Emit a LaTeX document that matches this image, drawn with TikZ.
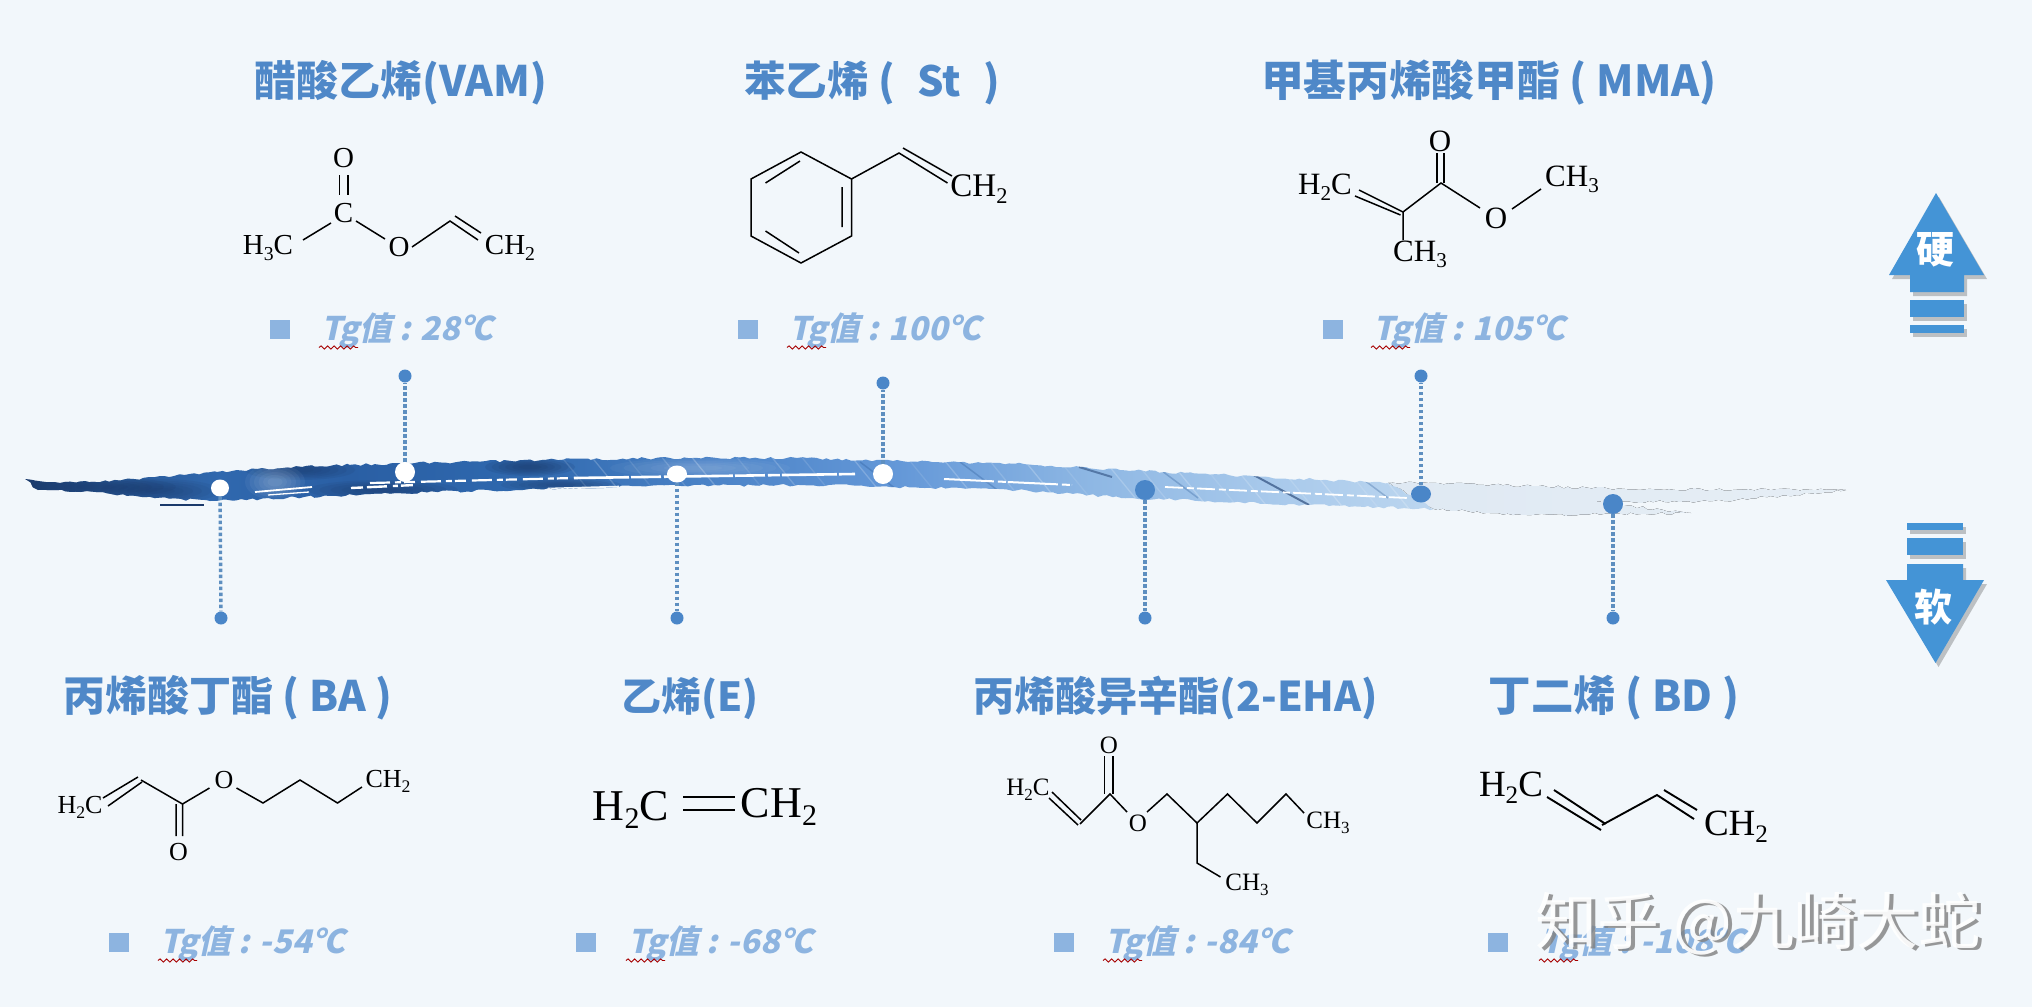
\documentclass[tikz,border=0pt]{standalone}
\usepackage{fontspec}
\usepackage{graphicx}
\usetikzlibrary{decorations.pathmorphing,shadows,shapes.geometric}
\newfontfamily\cjkf{Noto Sans CJK SC}
\newfontfamily\tgf[FakeSlant=0.22]{Noto Sans CJK SC}
\newfontfamily\chemf{Liberation Serif}
\definecolor{bgc}{HTML}{F2F7FB}
\definecolor{titlec}{HTML}{4F88C8}
\definecolor{tgc}{HTML}{8DB4E0}
\definecolor{stemc}{HTML}{5E8FC0}
\definecolor{dotc}{HTML}{4A86C8}
\definecolor{arrc}{HTML}{4494D6}
\definecolor{taila}{HTML}{DFE9F3}
\definecolor{tailb}{HTML}{E6EEF5}
\definecolor{dk0}{HTML}{1B3A6B}\definecolor{dk1}{HTML}{285896}\definecolor{dk2}{HTML}{3068AE}
\definecolor{dk3}{HTML}{2A5FA4}\definecolor{dk4}{HTML}{2F68AE}\definecolor{dk5}{HTML}{4A82C6}
\definecolor{dk6}{HTML}{6498D8}\definecolor{dk7}{HTML}{8FB8E4}\definecolor{dk8}{HTML}{ABCBEC}\definecolor{dk9}{HTML}{BCD6EF}
\newcommand\sbs[1]{\raisebox{-0.2em}{\scalebox{.68}{#1}}}
\newcommand\softblob[5]{\foreach \k in {1,.85,.7,.55,.4,.25}{\fill[#1,opacity=#5] (#2) ellipse ({#3*\k} and {#4*\k});}}
\tikzset{
 titlenode/.style={font=\fontsize{#1}{#1}\selectfont\cjkf\bfseries,text=titlec,inner sep=0pt},
 tgnode/.style={font=\fontsize{32.5}{32.5}\selectfont\tgf\bfseries,text=tgc,inner sep=0pt,anchor=west},
 sq/.style={fill=tgc,draw=none},
 squig/.style={draw=red!65!black,line width=.9pt,decorate,decoration={snake,segment length=6.5pt,amplitude=1.6pt}},
 bond/.style={draw=black,line width=1.5pt},
 atom/.style={inner sep=0pt,text=black,font=\fontsize{#1}{#1}\selectfont\chemf},
 stem/.style={draw=stemc,line width=3.4pt,dash pattern=on 3.5pt off 2.5pt},
 enddot/.style={circle,fill=dotc,minimum size=13pt,inner sep=0pt},
 whitedot/.style={ellipse,fill=white,inner sep=0pt},
 bluedot/.style={circle,fill=dotc,minimum size=20pt,inner sep=0pt},
 arr/.style={fill=arrc,draw=none,general shadow={shadow xshift=3pt,shadow yshift=-4pt,fill=black,opacity=.22}},
 wm/.style={font=\fontsize{62}{62}\selectfont\cjkf,inner sep=0pt},
 ragged/.style={decorate,decoration={random steps,segment length=5pt,amplitude=1.3pt}},
}
\pgfdeclarehorizontalshading{brushsh}{100bp}{
 color(0bp)=(dk0);color(25bp)=(dk0);color(27.7bp)=(dk1);color(31.9bp)=(dk2);color(36.5bp)=(dk3);color(42.6bp)=(dk4);
 color(49bp)=(dk5);color(56bp)=(dk6);color(63bp)=(dk7);color(70bp)=(dk8);color(75bp)=(dk9);color(100bp)=(dk9)}
\def\brushpath{(25,479) -- (60,483) -- (89,482) -- (134,479) -- (217,472) -- (306,466) -- (415,463) -- (542,460) -- (670,458) -- (797,458) -- (893,461) -- (1000,463) -- (1165,472) -- (1388,483) -- (1434,509) -- (1309,505) -- (1132,498) -- (1000,489) -- (925,488) -- (829,485) -- (638,486) -- (517,490) -- (395,493) -- (287,498) -- (210,501) -- (147,497) -- (96,492) -- (38,490) -- cycle}
\begin{document}
\begin{tikzpicture}[x=1pt,y=-1pt]
\fill[bgc] (0,0) rectangle (2032,1007);
\useasboundingbox (0,0) rectangle (2032,1007);

% brush tail
\pgfmathsetseed{7}
\fill[ragged,left color=taila,right color=tailb] (1388,483) -- (1428,483) -- (1625,489) -- (1846,490) -- (1724,501) -- (1592,502) -- (1691,513) -- (1527,515) -- (1434,509) -- cycle;
% brush body
\pgfmathsetseed{11}
\path[ragged,shading=brushsh] \brushpath;
\begin{scope}
\pgfmathsetseed{11}
\clip[ragged] \brushpath;
\softblob{dk0}{96,487}{80}{10}{.14}
\softblob{dk0}{160,491}{60}{12}{.10}
\softblob{dk0}{300,470}{55}{10}{.13}
\softblob{dk0}{383,490}{75}{10}{.12}
\softblob{dk0}{530,467}{45}{9}{.16}
\softblob{dk0}{561,485}{60}{7}{.12}
\softblob{white}{275,482}{30}{18}{.05}
\softblob{white}{700,468}{90}{10}{.04}
\foreach \xa/\op in {560/.12,590/.2,625/.1,660/.16,690/.22,735/.1,770/.18,800/.12,850/.2,905/.1,940/.2,985/.14,1020/.22,1055/.1,1100/.2,1130/.14,1165/.22,1195/.1,1225/.18,1270/.14,1300/.22,1335/.12,1365/.2}
  \draw[white,opacity=\op,line width=1.3pt] (\xa,455) -- ++(45,55);
\foreach \xa in {860,960,1150,1340}
  \draw[dk1,opacity=.3,line width=1.5pt] (\xa,462) -- ++(48,36);
\draw[dk0,opacity=.6,line width=2pt] (1250,473) -- (1309,505);
\draw[dk0,opacity=.5,line width=2pt] (1079,467) -- (1112,477);
\draw[white,line width=1.8pt] (255,492) -- (312,487);
\draw[white,line width=1.3pt] (268,495) -- (309,492);
\draw[white,line width=2.4pt,dash pattern=on 12pt off 4pt on 20pt off 6pt on 5pt off 3pt] (351,488) -- (415,485);
\draw[white,line width=2.2pt,dash pattern=on 20pt off 5pt on 6pt off 3pt on 11pt off 6pt] (370,483) -- (574,478);
\draw[white,line width=2.6pt,dash pattern=on 55pt off 2pt on 30pt off 3pt on 12pt off 2pt] (574,478) -- (855,474);
\draw[white,line width=2pt,dash pattern=on 50pt off 4pt on 8pt off 2pt] (944,479) -- (1072,485);
\draw[white,line width=1.8pt,dash pattern=on 18pt off 4pt on 7pt off 3pt] (1165,487) -- (1408,498);
\draw[bgc,line width=2.6pt] (548,489) -- (619,487);
\end{scope}
\fill[dk0] (160,504) rectangle (204,505.5);

% dots and stems
\node[whitedot,minimum width=18pt,minimum height=17pt] (wa) at (220,488) {};
\node[whitedot,minimum width=20pt,minimum height=20pt] (wb) at (405,472) {};
\node[whitedot,minimum width=20pt,minimum height=17pt] (wc) at (677,474) {};
\node[whitedot,minimum width=20pt,minimum height=20pt] (wd) at (883,474) {};
\node[bluedot,ellipse,minimum width=20pt,minimum height=17pt] (be) at (1421,494) {};
\node[bluedot] (bf) at (1145,490) {};
\node[bluedot] (bg) at (1613,504) {};
\node[enddot] (ea) at (221,618) {};
\node[enddot] (ec) at (677,618) {};
\node[enddot] (ef) at (1145,618) {};
\node[enddot] (eg) at (1613,618) {};
\node[enddot] (eb) at (405,376) {};
\node[enddot] (ed) at (883,383) {};
\node[enddot] (ee) at (1421,376) {};
\foreach \p/\q in {wa/ea,wb/eb,wc/ec,wd/ed,be/ee,bf/ef,bg/eg}
  \draw[stem] (\p) -- (\q);

% titles
\node[titlenode=42] (t1) at (401,83) {醋酸乙烯(VAM)};
\node[titlenode=41.6] (t2) at (872,83) {苯乙烯 ( \hspace{.3em}St\hspace{.3em} )};
\node[titlenode=42.7] (t3) at (1489,83) {甲基丙烯酸甲酯 ( MMA)};
\node[titlenode=42] (t4) at (228,698) {丙烯酸丁酯 ( BA )};
\node[titlenode=40] (t5) at (690,698) {乙烯(E)};
\node[titlenode=41] (t6) at (1176,698) {丙烯酸异辛酯(2-EHA)};
\node[titlenode=42.4] (t7) at (1614,698) {丁二烯 ( BD )};

% Tg rows
\foreach \sx/\sy/\tx/\lab/\nm in {
 270/320/321/28/g1, 738/320/789/100/g2, 1323/320/1373/105/g3,
 109/933/160/-54/g4, 576/933/628/-68/g5, 1054/933/1105/-84/g6, 1488/933/1541/-108/g7}{
  \fill[sq] (\sx,\sy) rectangle ++(19.5,19);
  \node[tgnode] (\nm) at (\tx,\sy+11) {Tg值 : \lab ℃};
  \draw[squig] (\tx-2,\sy+27.5) -- ++(39,0);
}

% VAM
\node[atom=29] (a1) at (343.5,158) {O};
\node[atom=29] (a2) at (343.5,213) {C};
\node[atom=29] (a3) at (268,248) {H\sbs{3}C};
\node[atom=29] (a4) at (399,247) {O};
\node[atom=29] (a5) at (510,248) {CH\sbs{2}};
\draw[bond] (339.5,175) -- (339.5,195) (348,175) -- (348,195);
\draw[bond] (303,240) -- (331,223);
\draw[bond] (356,221) -- (385,239);
\draw[bond] (412,247) -- (450,221) -- (478,240) (455,216) -- (481,233);

% styrene
\draw[bond] (801,152) -- (851.5,179) -- (851.5,236) -- (801,263) -- (751,236) -- (751,179) -- cycle;
\draw[bond] (765.5,183) -- (800,161) (842,187) -- (842,227) (765.5,231) -- (799,253);
\draw[bond] (851.5,179) -- (899,153) -- (947.5,183) (903,148) -- (952,176);
\node[atom=33] (b1) at (979,189) {CH\sbs{2}};

% MMA
\node[atom=31] (c1) at (1440,141) {O};
\node[atom=31] (c2) at (1325,187) {H\sbs{2}C};
\node[atom=31] (c3) at (1420,254) {CH\sbs{3}};
\node[atom=31] (c4) at (1496,218) {O};
\node[atom=31] (c5) at (1572,179) {CH\sbs{3}};
\draw[bond] (1437,153) -- (1437,183) (1444,153) -- (1444,183);
\draw[bond] (1359,190) -- (1403,212) (1355,196) -- (1400.5,215);
\draw[bond] (1403,240) -- (1403,212) -- (1441,183) -- (1480,208);
\draw[bond] (1512,209) -- (1541,189);

% BA
\node[atom=26] (d1) at (80,807) {H\sbs{2}C};
\node[atom=26] (d2) at (178.5,852) {O};
\node[atom=26] (d3) at (224,780) {O};
\node[atom=26] (d4) at (388,781) {CH\sbs{2}};
\draw[bond] (103,798) -- (138,777) (108,806) -- (142,782);
\draw[bond] (141,780) -- (182.5,804) (176,804) -- (176,836) (182.5,804) -- (182.5,836);
\draw[bond] (182.5,804) -- (209.5,788);
\draw[bond] (236.5,788) -- (263,803) -- (300,780) -- (337.5,803) -- (362,787);

% ethylene
\node[atom=44] (e1) at (631,810) {H\sbs{2}C};
\node[atom=44] (e2) at (779,807) {CH\sbs{2}};
\draw[bond,line width=2.4pt] (683,797) -- (735,797) (683,810) -- (735,810);

% 2-EHA
\node[atom=25] (f1) at (1109,745) {O};
\node[atom=25] (f2) at (1028,790) {H\sbs{2}C};
\node[atom=25] (f3) at (1138,823) {O};
\node[atom=25] (f4) at (1328,823) {CH\sbs{3}};
\node[atom=25] (f5) at (1247,885) {CH\sbs{3}};
\draw[bond] (1104.6,756) -- (1104.6,794) (1113,756) -- (1113,794);
\draw[bond] (1127,812) -- (1110,794) -- (1080,824) (1052,792) -- (1081,820) (1049,798) -- (1078,825);
\draw[bond] (1147,812) -- (1167,794) -- (1197,823) -- (1227.5,794) -- (1257,823) -- (1286,794) -- (1304,813);
\draw[bond] (1197,823) -- (1197,863) -- (1220.5,877);

% BD
\node[atom=37] (h1) at (1511,788) {H\sbs{2}C};
\node[atom=37] (h2) at (1736,827) {CH\sbs{2}};
\draw[bond,line width=1.9pt] (1547,797) -- (1601,830) (1554,790) -- (1605.6,824);
\draw[bond,line width=1.9pt] (1602,825) -- (1657,795) -- (1694,819) (1664,790) -- (1697,810);

% arrows
\path[arr] (1936,193) -- (1984,275) -- (1964,275) -- (1964,292) -- (1910,292) -- (1910,275) -- (1889,275) -- cycle;
\path[arr] (1910,300) rectangle (1964,317);
\path[arr] (1910,325) rectangle (1964,333);
\node[font=\fontsize{38}{38}\selectfont\cjkf\bfseries,text=white,inner sep=0pt] (hard) at (1935,250) {硬};
\path[arr] (1907,523) rectangle (1963,530);
\path[arr] (1907,538) rectangle (1963,555);
\path[arr] (1907,564) -- (1963,564) -- (1963,580) -- (1984,580) -- (1935.5,663) -- (1886,580) -- (1907,580) -- cycle;
\node[font=\fontsize{38}{38}\selectfont\cjkf\bfseries,text=white,inner sep=0pt] (soft) at (1933.5,607) {软};

% watermark
\node[wm,text=black!50,opacity=.8] (w1) at (1762,926) {知乎 @九崎大蛇};
\node[wm,text=white,opacity=.92] (w2) at (1758,924) {知乎 @九崎大蛇};
\end{tikzpicture}
\end{document}
